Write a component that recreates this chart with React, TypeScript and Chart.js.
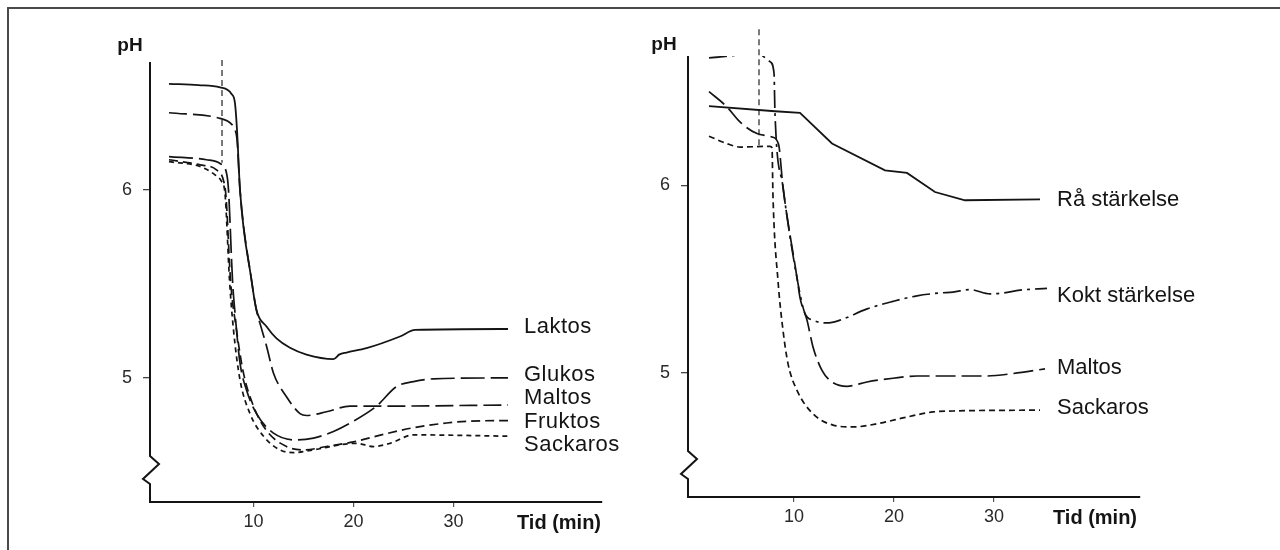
import React, { useEffect, useRef } from "react";
import { Chart, registerables } from "chart.js";

Chart.register(...registerables);
Chart.defaults.font.family = "'Liberation Sans', Arial, Helvetica, sans-serif";

// ---------- axis ticks ----------
const X_TICKS = [10, 20, 30];
const Y_TICKS = [5, 6];
const X_TITLE = "Tid (min)";
const Y_TITLE = "pH";
const X_TITLE_POS_LEFT = 40.55;
const X_TITLE_POS_RIGHT = 40.1;

// ---------- left panel (sugars) ----------
const laktosT = [1.55, 4.5, 6.65, 7.8, 8.15, 8.35, 8.65, 9.8, 10.3, 11.3, 12.3, 13.65, 15.3, 18.0, 18.6, 19.3, 21.3, 24.65, 26.15, 35.45];
const laktosPH = [6.564, 6.557, 6.545, 6.51, 6.46, 6.32, 6.0, 5.52, 5.36, 5.273, 5.21, 5.16, 5.124, 5.1, 5.125, 5.135, 5.158, 5.22, 5.255, 5.26];

const glukosT = [1.55, 5.3, 6.65, 7.3, 7.5, 7.9, 8.15, 8.65, 9.3, 10.3, 12.0, 14.3, 16.0, 18.0, 20.0, 22.3, 24.3, 26.0, 28.0, 35.45];
const glukosPH = [6.177, 6.16, 6.14, 6.09, 6.0, 5.52, 5.345, 5.08, 4.936, 4.81, 4.706, 4.67, 4.68, 4.715, 4.77, 4.85, 4.954, 4.98, 4.995, 5.0];

const maltosLT = [1.55, 6.65, 7.8, 8.15, 8.35, 8.65, 9.8, 10.3, 10.65, 11.3, 12.0, 13.3, 14.65, 15.3, 17.3, 19.65, 22.95, 35.45];
const maltosLPH = [6.41, 6.38, 6.35, 6.32, 6.27, 6.0, 5.52, 5.36, 5.29, 5.17, 5.025, 4.9, 4.81, 4.8, 4.82, 4.85, 4.85, 4.856];

const fruktosT = [1.55, 4.65, 6.3, 7.0, 7.25, 7.7, 8.3, 9.0, 10.0, 11.3, 13.3, 15.0, 17.3, 20.0, 23.0, 26.0, 29.3, 31.65, 35.45];
const fruktosPH = [6.16, 6.133, 6.106, 6.05, 5.965, 5.52, 5.255, 5.025, 4.85, 4.72, 4.635, 4.617, 4.635, 4.66, 4.7, 4.735, 4.76, 4.77, 4.773];

const sackarosLT = [1.55, 4.65, 6.15, 6.8, 7.15, 7.6, 8.0, 8.65, 9.65, 11.0, 12.65, 14.0, 16.0, 18.65, 20.3, 22.0, 23.65, 26.0, 35.45];
const sackarosLPH = [6.15, 6.124, 6.08, 6.045, 5.98, 5.52, 5.255, 4.99, 4.81, 4.69, 4.617, 4.603, 4.617, 4.644, 4.652, 4.635, 4.652, 4.697, 4.69];

const markerLT = [6.85, 6.85];
const markerLPH = [6.69, 6.144];

// ---------- right panel (starch etc.) ----------
const raT = [1.5, 8.1, 10.6, 13.8, 19.1, 21.3, 24.1, 27.1, 34.6];
const raPH = [6.422, 6.395, 6.386, 6.223, 6.08, 6.066, 5.964, 5.92, 5.925];

const koktT = [1.5, 6.4, 7.6, 8.0, 8.1, 8.9, 10.35, 11.1, 11.9, 13.3, 14.6, 17.3, 19.9, 22.3, 24.6, 25.9, 27.6, 29.6, 30.9, 32.6, 35.3];
const koktPH = [6.68, 6.7, 6.66, 6.6, 6.38, 5.99, 5.49, 5.315, 5.28, 5.265, 5.28, 5.34, 5.38, 5.41, 5.425, 5.43, 5.443, 5.42, 5.425, 5.44, 5.45];

const maltosRT = [1.5, 3.3, 4.6, 6.3, 7.8, 8.45, 8.9, 10.35, 10.6, 11.3, 11.9, 12.8, 13.8, 15.3, 17.3, 19.9, 22.3, 29.3, 31.9, 35.1];
const maltosRPH = [6.5, 6.418, 6.338, 6.276, 6.258, 6.22, 5.99, 5.49, 5.4, 5.28, 5.137, 5.012, 4.95, 4.927, 4.95, 4.97, 4.982, 4.982, 4.995, 5.02];

const sackarosRT = [1.5, 3.3, 4.6, 7.6, 7.8, 7.9, 8.4, 8.9, 9.4, 10.3, 11.9, 13.9, 15.9, 18.6, 21.3, 23.9, 25.9, 34.6];
const sackarosRPH = [6.262, 6.222, 6.204, 6.208, 6.2, 5.94, 5.49, 5.226, 5.048, 4.905, 4.78, 4.72, 4.71, 4.73, 4.763, 4.79, 4.795, 4.8];

const markerRT = [6.5, 6.5];
const markerRPH = [6.833, 6.205];

const INK = "#141414";

const pts = (t: number[], p: number[]) => t.map((x, i) => ({ x, y: p[i] }));

const curve = (label: string, t: number[], p: number[], dash: number[], extra: any = {}) => ({
  label,
  data: pts(t, p),
  borderColor: INK,
  borderWidth: 1.7,
  borderDash: dash,
  pointRadius: 0,
  fill: false,
  cubicInterpolationMode: "monotone",
  tension: 0.4,
  endLabel: label,
  labelDx: 16,
  labelDy: 0,
  ...extra,
});

const marker = (t: number[], p: number[]) => ({
  label: "",
  data: pts(t, p),
  borderColor: "#222",
  borderWidth: 1.2,
  borderDash: [6, 4],
  pointRadius: 0,
  fill: false,
  tension: 0,
  clip: false,
});

const axisPlugin = {
  id: "axisBreak",
  afterDraw(chart: any) {
    const { ctx, chartArea } = chart;
    const x = chartArea.left;
    const top = chartArea.top;
    const b = chartArea.bottom;
    ctx.save();
    ctx.strokeStyle = INK;
    ctx.lineWidth = 2;
    ctx.beginPath();
    ctx.moveTo(x, top);
    ctx.lineTo(x, b - 46);
    ctx.lineTo(x + 9, b - 38);
    ctx.lineTo(x - 7, b - 23);
    ctx.lineTo(x, b - 18);
    ctx.lineTo(x, b + 1);
    ctx.stroke();
    ctx.restore();
  },
};

const textPlugin = {
  id: "textLabels",
  afterDatasetsDraw(chart: any) {
    const { ctx, chartArea } = chart;
    const o = chart.options.plugins.textLabels || {};
    ctx.save();
    ctx.fillStyle = INK;
    ctx.textBaseline = "middle";
    ctx.textAlign = "left";
    ctx.font = "22px 'Liberation Sans', Arial, sans-serif";
    try { (ctx as any).letterSpacing = o.spacing ?? "0px"; } catch (e) {}
    chart.data.datasets.forEach((ds: any, i: number) => {
      if (!ds.endLabel) return;
      const meta = chart.getDatasetMeta(i);
      const last = meta.data[meta.data.length - 1];
      ctx.fillText(ds.endLabel, last.x + ds.labelDx, last.y + ds.labelDy);
    });
    try { (ctx as any).letterSpacing = "0px"; } catch (e) {}
    ctx.font = "bold 19px 'Liberation Sans', Arial, sans-serif";
    ctx.textAlign = "center";
    ctx.fillText(Y_TITLE, chartArea.left + (o.titleDx ?? -20), chartArea.top + (o.titleDy ?? -16));
    ctx.restore();
  },
};

function makeOptions(p: {
  padLeft: number; padTop: number; padRight: number; yWidth: number; xHeight: number;
  xMin: number; xMax: number; yMin: number; yMax: number; titlePos: number; titleDx: number; titleDy: number;
  spacing: string;
}) {
  return {
    responsive: false,
    animation: false,
    devicePixelRatio: 1,
    layout: { padding: { left: p.padLeft, top: p.padTop, right: p.padRight, bottom: 0 } },
    plugins: {
      legend: { display: false },
      tooltip: { enabled: false },
      textLabels: { titleDx: p.titleDx, titleDy: p.titleDy, spacing: p.spacing },
    },
    scales: {
      x: {
        type: "linear",
        min: p.xMin,
        max: p.xMax,
        afterBuildTicks: (s: any) => {
          s.ticks = [...X_TICKS, p.titlePos].map((v) => ({ value: v }));
        },
        afterFit: (s: any) => {
          s.height = p.xHeight;
        },
        border: { display: true, color: INK, width: 2 },
        grid: {
          display: true,
          drawOnChartArea: false,
          drawTicks: true,
          tickLength: 5,
          lineWidth: 1.2,
          tickColor: (c: any) => (c.tick && c.tick.value === p.titlePos ? "rgba(0,0,0,0)" : "#555"),
        },
        ticks: {
          autoSkip: false,
          maxRotation: 0,
          padding: 4,
          color: (c: any) => (c.tick && c.tick.value === p.titlePos ? INK : "#2a2a2a"),
          font: (c: any) =>
            c.tick && c.tick.value === p.titlePos ? { size: 20, weight: "bold" } : { size: 18 },
          callback: (v: any) => (v === p.titlePos ? X_TITLE : String(v)),
        },
      },
      y: {
        type: "linear",
        min: p.yMin,
        max: p.yMax,
        afterBuildTicks: (s: any) => {
          s.ticks = Y_TICKS.map((v) => ({ value: v }));
        },
        afterFit: (s: any) => {
          s.width = p.yWidth;
        },
        border: { display: false },
        grid: {
          display: true,
          drawOnChartArea: false,
          drawTicks: true,
          tickLength: 7,
          lineWidth: 1.3,
          tickColor: "#444",
        },
        ticks: {
          padding: 11,
          color: "#2a2a2a",
          font: { size: 18 },
          callback: (v: any) => String(v),
        },
      },
    },
  };
}

function Panel({ datasets, options, left }: { datasets: any[]; options: any; left: number }) {
  const ref = useRef<HTMLCanvasElement | null>(null);
  useEffect(() => {
    if (!ref.current) return;
    const chart = new Chart(ref.current, {
      type: "line",
      data: { datasets },
      options,
      plugins: [axisPlugin, textPlugin],
    } as any);
    return () => chart.destroy();
  }, []);
  return (
    <canvas
      ref={ref}
      width={640}
      height={550}
      style={{ position: "absolute", left, top: 0, width: 640, height: 550 }}
    />
  );
}

export default function App() {
  const leftSets = [
    curve("Laktos", laktosT, laktosPH, [], { borderWidth: 1.8, labelDy: -2 }),
    curve("Glukos", glukosT, glukosPH, [24, 6], { labelDy: -3 }),
    curve("Maltos", maltosLT, maltosLPH, [18, 6], { labelDy: -7 }),
    curve("Fruktos", fruktosT, fruktosPH, [9, 5], { labelDy: 1 }),
    curve("Sackaros", sackarosLT, sackarosLPH, [5, 4], { labelDy: 9 }),
    marker(markerLT, markerLPH),
  ];
  const rightSets = [
    curve("Rå stärkelse", raT, raPH, [], { borderWidth: 1.8, tension: 0, cubicInterpolationMode: "default", labelDx: 17, labelDy: 1 }),
    curve("Kokt stärkelse", koktT, koktPH, [18, 5, 3, 5], { labelDx: 10, labelDy: 8 }),
    curve("Maltos", maltosRT, maltosRPH, [20, 6], { labelDx: 12, labelDy: -1 }),
    curve("Sackaros", sackarosRT, sackarosRPH, [6, 4], { labelDx: 17, labelDy: -2 }),
    marker(markerRT, markerRPH),
  ];
  const leftOpts = makeOptions({
    padLeft: 100, padTop: 62, padRight: 38, yWidth: 50, xHeight: 48,
    xMin: -0.35, xMax: 44.85, yMin: 4.34, yMax: 6.68, titlePos: X_TITLE_POS_LEFT, titleDx: -20, titleDy: -16,
    spacing: "0.5px",
  });
  const rightOpts = makeOptions({
    padLeft: 0, padTop: 56, padRight: 140, yWidth: 48, xHeight: 53,
    xMin: -0.6, xMax: 44.6, yMin: 4.336, yMax: 6.69, titlePos: X_TITLE_POS_RIGHT, titleDx: -24, titleDy: -11,
    spacing: "0px",
  });
  return (
    <div style={{ position: "fixed", left: 0, top: 0, width: 1280, height: 550, background: "#fff", overflow: "hidden" }}>
      <div
        style={{
          position: "absolute", left: 7, top: 7, width: 1280, height: 560,
          borderTop: "2px solid #4a4a4a", borderLeft: "2px solid #4a4a4a",
        }}
      />
      <Panel datasets={leftSets} options={leftOpts} left={0} />
      <Panel datasets={rightSets} options={rightOpts} left={640} />
    </div>
  );
}
